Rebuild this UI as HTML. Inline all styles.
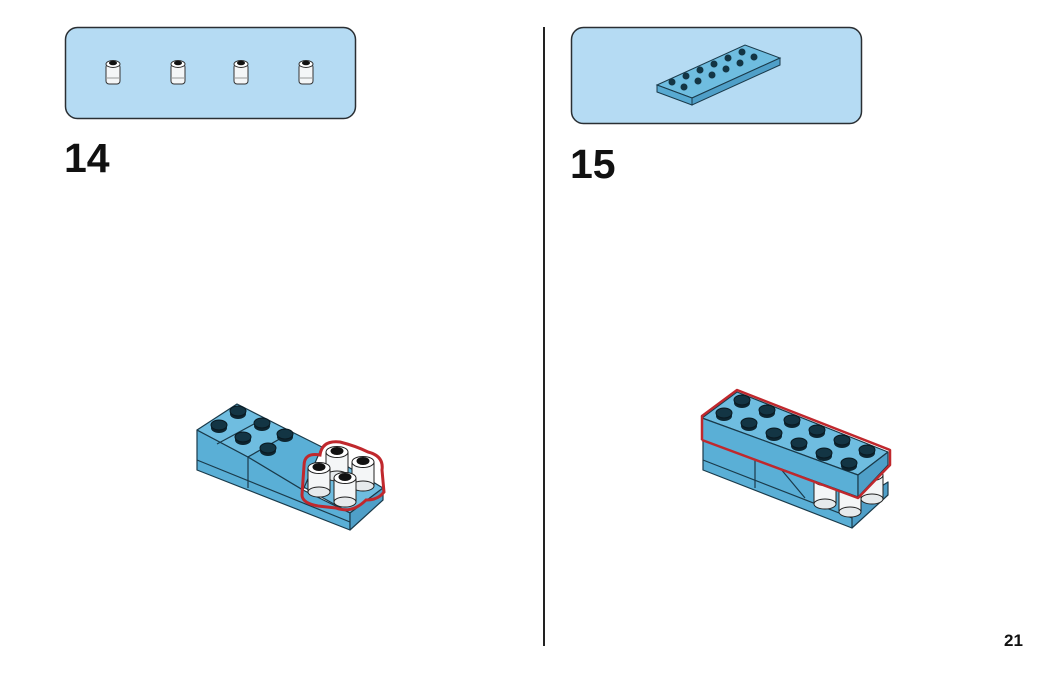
<!DOCTYPE html>
<html><head><meta charset="utf-8"><style>
html,body{margin:0;padding:0;background:#fff;width:1050px;height:673px;overflow:hidden}
svg{display:block}
text{font-family:"Liberation Sans",sans-serif;font-weight:bold;fill:#111}
</style></head><body>
<svg width="1050" height="673" viewBox="0 0 1050 673">
<defs>
<g id="stud"><ellipse cx="0" cy="3" rx="8" ry="5" fill="#0d2530"/><ellipse cx="0" cy="0" rx="8" ry="5" fill="#133544" stroke="#0a1a22" stroke-width="1"/></g>
<g id="wr">
<rect x="-11" y="0" width="22" height="24" fill="#f4f6f7" stroke="#222" stroke-width="1"/>
<ellipse cx="0" cy="24" rx="11" ry="5" fill="#e6eaec" stroke="#222" stroke-width="1"/>
<ellipse cx="0" cy="0" rx="11" ry="5.5" fill="#fff" stroke="#222" stroke-width="1"/>
<ellipse cx="0" cy="-1" rx="6.5" ry="4" fill="#111"/>
</g>
<g id="sw">
<rect x="-7" y="0" width="14" height="20" rx="3" fill="#f4f6f7" stroke="#333" stroke-width="1"/>
<line x1="-7" y1="14" x2="7" y2="14" stroke="#999"/>
<ellipse cx="0" cy="0" rx="7" ry="3.5" fill="#fff" stroke="#333"/>
<ellipse cx="0" cy="-1" rx="4" ry="2.3" fill="#111"/>
</g>
</defs>

<rect x="65.5" y="27.5" width="290" height="91" rx="12" fill="#b5dbf3" stroke="#2a2f33" stroke-width="1.5"/>
<use href="#sw" x="113" y="64"/><use href="#sw" x="178" y="64"/><use href="#sw" x="241" y="64"/><use href="#sw" x="306" y="64"/>
<rect x="571.5" y="27.5" width="290" height="96" rx="12" fill="#b5dbf3" stroke="#2a2f33" stroke-width="1.5"/>
<polygon points="657,85 745,45 780,58 692,98" fill="#6fbde0" stroke="#1a3a4a"/>
<polygon points="657,85 692,98 692,105 657,92" fill="#58aad2" stroke="#1a3a4a"/>
<polygon points="692,98 780,58 780,65 692,105" fill="#4f9fc8" stroke="#1a3a4a"/>
<g fill="#133544">
<circle cx="672" cy="82" r="3.5"/><circle cx="686" cy="76" r="3.5"/><circle cx="700" cy="70" r="3.5"/><circle cx="714" cy="64" r="3.5"/><circle cx="728" cy="58" r="3.5"/><circle cx="742" cy="52" r="3.5"/>
<circle cx="684" cy="87" r="3.5"/><circle cx="698" cy="81" r="3.5"/><circle cx="712" cy="75" r="3.5"/><circle cx="726" cy="69" r="3.5"/><circle cx="740" cy="63" r="3.5"/><circle cx="754" cy="57" r="3.5"/>
</g>

<text x="64" y="172" font-size="41">14</text>
<text x="570" y="178" font-size="41">15</text>
<text x="1004" y="646" font-size="17">21</text>
<line x1="544" y1="27" x2="544" y2="646" stroke="#222" stroke-width="2"/>

<g stroke="#1a3a4a" stroke-width="1.2" stroke-linejoin="round">
<polygon points="300,485 340,462 383,488 350,513" fill="#6fbde0"/>
<polygon points="197,430 248,457 303,490 350,513 350,530 197,470" fill="#5aafd6"/>
<polygon points="350,513 383,488 383,500 350,530" fill="#4f9fc8"/>
<line x1="197" y1="460" x2="350" y2="522"/>
<line x1="248" y1="457" x2="248" y2="488"/>
<polygon points="197,430 237,404 292,432 248,457" fill="#6fbde0"/>
<polygon points="248,457 292,432 322,447 303,490" fill="#5aafd6"/>
<line x1="217" y1="444" x2="265" y2="418"/>
</g>
<use href="#stud" x="238" y="411"/><use href="#stud" x="262" y="423"/><use href="#stud" x="285" y="434"/>
<use href="#stud" x="219" y="425"/><use href="#stud" x="243" y="437"/><use href="#stud" x="268" y="448"/>
<use href="#wr" x="337" y="452"/><use href="#wr" x="363" y="462"/><use href="#wr" x="319" y="468"/><use href="#wr" x="345" y="478"/>
<path d="M304,466 Q304,452 320,455 Q322,440 340,442 Q356,446 368,452 Q384,456 382,470 L384,492 Q378,500 366,500 Q352,514 336,508 L318,506 Q302,503 302,495 Z" fill="none" stroke="#c0282d" stroke-width="3"/>

<g stroke="#1a3a4a" stroke-width="1.2" stroke-linejoin="round">
<polygon points="703,440 858,497 852,528 703,470" fill="#5aafd6"/>
<line x1="703" y1="460" x2="852" y2="518"/>
<line x1="755" y1="458" x2="755" y2="488"/>
<line x1="780" y1="468" x2="805" y2="498"/>
<polygon points="852,505 888,482 888,495 852,528" fill="#4f9fc8"/>
</g>
<use href="#wr" x="825" y="480"/><use href="#wr" x="850" y="488"/><use href="#wr" x="872" y="475"/>
<g stroke="#1a3a4a" stroke-width="1.2" stroke-linejoin="round">
<polygon points="702,418 737,392 888,452 858,475" fill="#6fbde0"/>
<polygon points="702,418 858,475 858,497 702,440" fill="#5aafd6"/>
<polygon points="858,475 888,452 888,465 858,497" fill="#4f9fc8"/>
</g>
<g>
<use href="#stud" x="742" y="400"/><use href="#stud" x="767" y="410"/><use href="#stud" x="792" y="420"/><use href="#stud" x="817" y="430"/><use href="#stud" x="842" y="440"/><use href="#stud" x="867" y="450"/>
<use href="#stud" x="724" y="413"/><use href="#stud" x="749" y="423"/><use href="#stud" x="774" y="433"/><use href="#stud" x="799" y="443"/><use href="#stud" x="824" y="453"/><use href="#stud" x="849" y="463"/>
</g>
<polyline points="702,440 702,416 737,390 890,450 890,465 858,498 702,440" fill="none" stroke="#c0282d" stroke-width="2.5" stroke-linejoin="round"/>
</svg>
</body></html>
